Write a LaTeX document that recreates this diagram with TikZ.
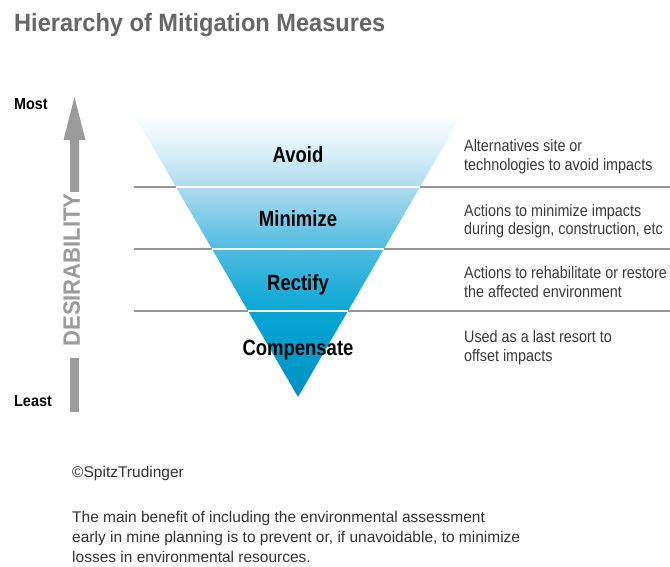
\documentclass[tikz,border=0pt]{standalone}
\usepackage{fontspec}
\setmainfont{Liberation Sans}
\newfontfamily\titlefont{Liberation Sans}[FakeStretch=0.944]
\newfontfamily\labelfont{Liberation Sans}[FakeStretch=0.84]
\newfontfamily\sidefont{Liberation Sans}[FakeStretch=0.87]
\newfontfamily\endfont{Liberation Sans}[FakeStretch=0.9]
\newfontfamily\axisfont{Liberation Sans}[FakeStretch=0.93]
\usetikzlibrary{calc}

\definecolor{titlegray}{HTML}{666666}
\definecolor{rulegray}{HTML}{959595}
\definecolor{arrowgray}{HTML}{9B9B9B}
\definecolor{sidetext}{HTML}{3A3A3A}
\definecolor{bodytext}{HTML}{333333}
% funnel colours, from the tip upwards
\definecolor{triA}{HTML}{0090C0}
\definecolor{triB}{HTML}{08A6D4}
\definecolor{triC}{HTML}{4DBBE0}
\definecolor{triD}{HTML}{AEDBEE}
\definecolor{triE}{HTML}{DCF0F8}

\pgfdeclareverticalshading{funnel}{100bp}{%
  color(0bp)=(triA); color(25bp)=(triA); color(40bp)=(triB);
  color(51bp)=(triC); color(62bp)=(triD); color(68.5bp)=(triE);
  color(75bp)=(white); color(100bp)=(white)}

% multi-line nodes are anchored at the baseline of their last line
\tikzset{
  titletext/.style={anchor=base west, inner sep=0pt, text=titlegray,
    font=\titlefont\bfseries\fontsize{25}{30}\selectfont},
  endtext/.style={anchor=base west, inner sep=0pt, text=black,
    font=\endfont\bfseries\fontsize{16}{19}\selectfont},
  axistext/.style={inner sep=0pt, text=arrowgray, rotate=90,
    font=\axisfont\bfseries\fontsize{23.7}{28}\selectfont},
  leveltext/.style={anchor=base, inner sep=0pt, text=black,
    font=\labelfont\bfseries\fontsize{22}{26}\selectfont},
  sidenote/.style={anchor=base west, inner sep=0pt, text=sidetext, align=left,
    font=\sidefont\fontsize{16.5}{18.5}\selectfont},
  bodynote/.style={anchor=base west, inner sep=0pt, text=bodytext, align=left,
    font=\fontsize{15.5}{20}\selectfont},
  levelrule/.style={rulegray, line width=2.2pt},
  gaprule/.style={white, line width=2.6pt},
}

\begin{document}
\begin{tikzpicture}[x=1pt,y=-1pt]
  \useasboundingbox (0,0) rectangle (670,567);

  % title
  \node[titletext] (title) at (14,32) {Hierarchy of Mitigation Measures};

  % desirability axis
  \fill[arrowgray] (70,140) -- (63.5,140) -- (74.5,97) -- (85.5,140)
    -- (79,140) -- (79,192) -- (70,192) -- cycle;
  \fill[arrowgray] (70,358) rectangle (79,412);
  \node[axistext] (axis) at (71.7,270) {DESIRABILITY};
  \node[endtext] (most) at (14,110) {Most};
  \node[endtext] (least) at (14,406.7) {Least};

  % level rules
  \foreach \y in {187,249,311}
    \draw[levelrule] (134,\y) -- (670,\y);

  % funnel
  \coordinate (tl) at (133,113);
  \coordinate (tr) at (463,113);
  \coordinate (tip) at (298,397);
  \shade[shading=funnel] (tl) -- (tr) -- (tip) -- cycle;
  \foreach \t in {0.2606,0.4789,0.6972}
    \draw[gaprule] ($(tl)!\t!(tip)$) -- ($(tr)!\t!(tip)$);

  % level names
  \node[leveltext] (avoid) at (298,162.7) {Avoid};
  \node[leveltext] (minimize) at (298,226.7) {Minimize};
  \node[leveltext] (rectify) at (298,290) {Rectify};
  \node[leveltext] (compensate) at (298,355) {Compensate};

  % descriptions
  \node[sidenote] (noteA) at (464,170.5) {Alternatives site or\\technologies to avoid impacts};
  \node[sidenote] (noteB) at (464,235) {Actions to minimize impacts\\during design, construction, etc};
  \node[sidenote] (noteC) at (464,297) {Actions to rehabilitate or restore\\the affected environment};
  \node[sidenote] (noteD) at (464,361) {Used as a last resort to\\offset impacts};

  % footer
  \node[bodynote] (credit) at (72,477.7) {©SpitzTrudinger};
  \node[bodynote] (summary) at (72,562) {The main benefit of including the environmental assessment\\early in mine planning is to prevent or, if unavoidable, to minimize\\losses in environmental resources.};
\end{tikzpicture}
\end{document}
